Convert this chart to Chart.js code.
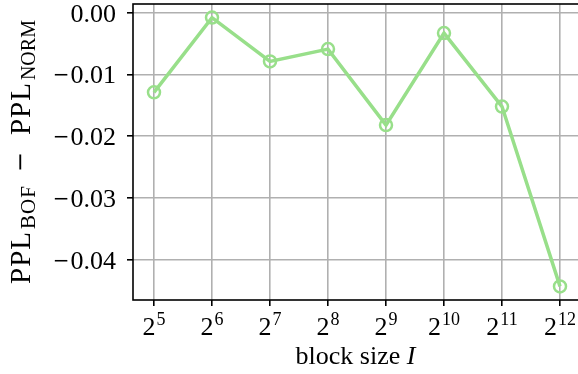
<!DOCTYPE html>
<html>
<head>
<meta charset="utf-8">
<script src="https://cdn.jsdelivr.net/npm/chart.js@4.4.1/dist/chart.umd.min.js"></script>
<style>
  html, body { margin: 0; padding: 0; background: #fff; overflow: hidden; }
  #wrap { width: 578px; height: 374px; overflow: hidden; }
  canvas { display: block; }
</style>
</head>
<body>
<div id="wrap"><canvas id="c" width="582" height="374"></canvas></div>
<script>
// block size exponents (block size = 2^k)
const exponents = [5, 6, 7, 8, 9, 10, 11, 12];
// PPL difference BOF minus NORM
const pplDiff = [-0.0129, -0.0008, -0.0079, -0.0059, -0.0182, -0.0033, -0.0152, -0.0443];
// y-axis tick values
const yTickValues = [0.00, -0.01, -0.02, -0.03, -0.04];

const LINE_COLOR = '#98df8a';
const GRID_COLOR = '#b0b0b0';
const SERIF = '"Liberation Serif", "Times New Roman", serif';
const MINUS_FONT = '"DejaVu Serif", serif';

// frame, tick labels and the two axis titles
const framePlugin = {
  id: 'frame',
  afterDraw(chart) {
    const { ctx, chartArea: a } = chart;
    ctx.save();
    ctx.strokeStyle = '#000';
    ctx.lineWidth = 1.6;
    ctx.strokeRect(a.left, a.top, a.right - a.left, a.bottom - a.top);

    ctx.fillStyle = '#000';
    ctx.textBaseline = 'alphabetic';
    ctx.textAlign = 'left';

    // y tick labels, right-aligned left of the tick marks
    const ys = chart.scales.y;
    yTickValues.forEach(v => {
      const py = ys.getPixelForValue(v);
      const digits = Math.abs(v).toFixed(2);
      ctx.font = '26px ' + SERIF;
      const wd = ctx.measureText(digits).width;
      const right = a.left - 17;
      ctx.fillText(digits, right - wd, py + 9);
      if (v < -1e-12) {
        ctx.font = '20px ' + MINUS_FONT;
        const wm = ctx.measureText('\u2212').width;
        ctx.fillText('\u2212', right - wd - wm - 1, py + 7);
      }
    });

    // x tick labels: base 2 with raised exponent
    const xs = chart.scales.x;
    exponents.forEach(k => {
      const px = xs.getPixelForValue(k);
      ctx.font = '26px ' + SERIF;
      const wb = ctx.measureText('2').width;
      ctx.font = '18px ' + SERIF;
      const we = ctx.measureText(String(k)).width;
      const x0 = px - (wb + we + 1) / 2;
      ctx.font = '26px ' + SERIF;
      ctx.fillText('2', x0, 335);
      ctx.font = '18px ' + SERIF;
      ctx.fillText(String(k), x0 + wb + 1, 325);
    });

    // x title: "block size I"
    const t1 = 'block size ';
    ctx.font = 'italic 26px ' + SERIF;
    const wI = ctx.measureText('I').width;
    ctx.font = '26px ' + SERIF;
    const w1 = ctx.measureText(t1).width;
    const cx = (a.left + 578) / 2;
    const x0 = cx - (w1 + wI) / 2;
    ctx.fillText(t1, x0, 364);
    ctx.font = 'italic 26px ' + SERIF;
    ctx.fillText('I', x0 + w1, 364);

    // y title: PPL_BOF − PPL_NORM, rotated, read bottom to top
    const parts = [
      { t: 'PPL', font: '29px ' + SERIF, dy: 0, ls: 1, gap: 2 },
      { t: 'BOF', font: '21px ' + SERIF, dy: 5, ls: 1, gap: 13 },
      { t: '\u2212', font: '24px ' + MINUS_FONT, dy: -2, ls: 0, gap: 17 },
      { t: 'PPL', font: '29px ' + SERIF, dy: 0, ls: 1, gap: 2 },
      { t: 'NORM', font: '20px ' + SERIF, dy: 5, ls: 0, gap: 0 }
    ];
    ctx.translate(30, 0);
    ctx.rotate(-Math.PI / 2);
    // rotated frame: x axis points up the page, so x = -screenY
    let px = -284;
    parts.forEach(p => {
      ctx.font = p.font;
      ctx.letterSpacing = p.ls + 'px';
      const w = ctx.measureText(p.t).width;
      ctx.fillText(p.t, px, p.dy);
      px += w + p.gap;
    });
    ctx.restore();
  }
};

new Chart(document.getElementById('c'), {
  type: 'line',
  data: {
    datasets: [{
      data: exponents.map((k, i) => ({ x: k, y: pplDiff[i] })),
      borderColor: LINE_COLOR,
      borderWidth: 3.5,
      pointRadius: 6,
      pointBorderWidth: 2.5,
      pointBackgroundColor: 'rgba(0,0,0,0)',
      pointBorderColor: LINE_COLOR,
      tension: 0,
      clip: false
    }]
  },
  options: {
    responsive: false,
    animation: false,
    events: [],
    layout: { autoPadding: false, padding: { top: 4, right: 1, bottom: 0, left: 0 } },
    plugins: { legend: { display: false }, tooltip: { enabled: false } },
    scales: {
      x: {
        type: 'linear',
        min: 4.638,
        max: 12.362,
        afterFit(s) { s.height = 74; s.paddingLeft = 0; s.paddingRight = 0; },
        afterBuildTicks(s) { s.ticks = exponents.map(v => ({ value: v })); },
        ticks: { display: false },
        grid: {
          color: GRID_COLOR,
          lineWidth: 1.6,
          tickColor: '#000',
          tickWidth: 1.6,
          tickLength: 6
        },
        border: { display: false }
      },
      y: {
        type: 'linear',
        min: -0.0465,
        max: 0.0014,
        afterFit(s) { s.width = 133; s.paddingTop = 0; s.paddingBottom = 0; },
        afterBuildTicks(s) { s.ticks = yTickValues.map(v => ({ value: v })); },
        ticks: { display: false },
        grid: {
          color: GRID_COLOR,
          lineWidth: 1.6,
          tickColor: '#000',
          tickWidth: 1.6,
          tickLength: 6
        },
        border: { display: false }
      }
    }
  },
  plugins: [framePlugin]
});
</script>
</body>
</html>
